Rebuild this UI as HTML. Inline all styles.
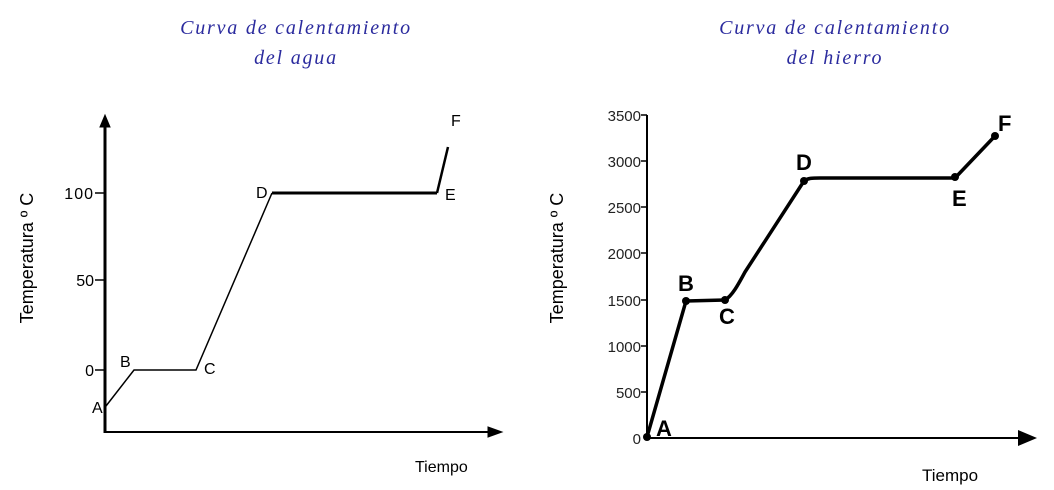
<!DOCTYPE html>
<html><head><meta charset="utf-8"><style>
body{margin:0;background:#fff;width:1054px;height:485px;overflow:hidden}
</style></head><body>
<svg width="1054" height="485" xmlns="http://www.w3.org/2000/svg" font-family="Liberation Sans, sans-serif">
<g font-family="Liberation Serif, serif" font-style="italic" fill="#2b2b9e" font-size="20" letter-spacing="1.8" text-anchor="middle">
<text x="296" y="34">Curva de calentamiento</text>
<text x="296" y="64">del agua</text>
<text x="835" y="34">Curva de calentamiento</text>
<text x="835" y="64">del hierro</text>
</g>
<!-- left chart -->
<g stroke="#000" fill="none">
<line x1="105" y1="118" x2="105" y2="433" stroke-width="3"/>
<line x1="105" y1="432" x2="495" y2="432" stroke-width="2"/>
<polygon points="100,127 105,115 110,127" fill="#000"/>
<polygon points="488,427 502,432 488,437" fill="#000"/>
<line x1="95" y1="193" x2="105" y2="193" stroke-width="1.5"/>
<line x1="95" y1="280" x2="105" y2="280" stroke-width="1.5"/>
<line x1="95" y1="370" x2="105" y2="370" stroke-width="1.5"/>
<polyline points="106,406 134,370 196,370 272,193" stroke-width="1.5"/>
<polyline points="272,193 437,193" stroke-width="3"/>
<polyline points="437,193 448,147" stroke-width="2.5"/>
</g>
<g font-size="16" fill="#000">
<text x="94" y="199" text-anchor="end" letter-spacing="1">100</text>
<text x="94" y="286" text-anchor="end">50</text>
<text x="94" y="376" text-anchor="end">0</text>
<text x="92" y="413">A</text>
<text x="120" y="367">B</text>
<text x="204" y="374">C</text>
<text x="256" y="198">D</text>
<text x="445" y="200">E</text>
<text x="451" y="126">F</text>
<text x="415" y="472">Tiempo</text>
<text transform="translate(33,258) rotate(-90)" text-anchor="middle" font-size="18">Temperatura º C</text>
</g>
<!-- right chart -->
<g stroke="#000" fill="none">
<line x1="647" y1="115" x2="647" y2="439" stroke-width="2"/>
<line x1="647" y1="438" x2="1025" y2="438" stroke-width="2"/>
<polygon points="1018,430 1037,438 1018,446" fill="#000" stroke="none"/>
<g stroke-width="1.5">
<line x1="641" y1="115" x2="647" y2="115"/>
<line x1="641" y1="161" x2="647" y2="161"/>
<line x1="641" y1="207" x2="647" y2="207"/>
<line x1="641" y1="253" x2="647" y2="253"/>
<line x1="641" y1="300" x2="647" y2="300"/>
<line x1="641" y1="346" x2="647" y2="346"/>
<line x1="641" y1="392" x2="647" y2="392"/>
</g>
<path d="M647,437 L686,301 L725,300 C732,296 738,285 745,272 L804,181 C808,178 812,178 820,178 L955,178 L995,136" stroke-width="3.5" stroke-linejoin="round"/>
</g>
<g fill="#000">
<circle cx="647" cy="437" r="4"/><circle cx="686" cy="301" r="4"/><circle cx="725" cy="300" r="4"/>
<circle cx="804" cy="181" r="4"/><circle cx="955" cy="177" r="4"/><circle cx="995" cy="136" r="4"/>
</g>
<g font-size="15" fill="#222" text-anchor="end">
<text x="641" y="121">3500</text><text x="641" y="167">3000</text><text x="641" y="213">2500</text>
<text x="641" y="259">2000</text><text x="641" y="306">1500</text><text x="641" y="352">1000</text>
<text x="641" y="398">500</text><text x="641" y="444">0</text>
</g>
<g font-size="22" font-weight="bold" fill="#000">
<text x="656" y="436">A</text><text x="678" y="291">B</text><text x="719" y="324">C</text>
<text x="796" y="170">D</text><text x="952" y="206">E</text><text x="998" y="131">F</text>
</g>
<g font-size="17" fill="#000">
<text x="922" y="481">Tiempo</text>
<text transform="translate(563,258) rotate(-90)" text-anchor="middle" font-size="18">Temperatura º C</text>
</g>
</svg>
</body></html>
